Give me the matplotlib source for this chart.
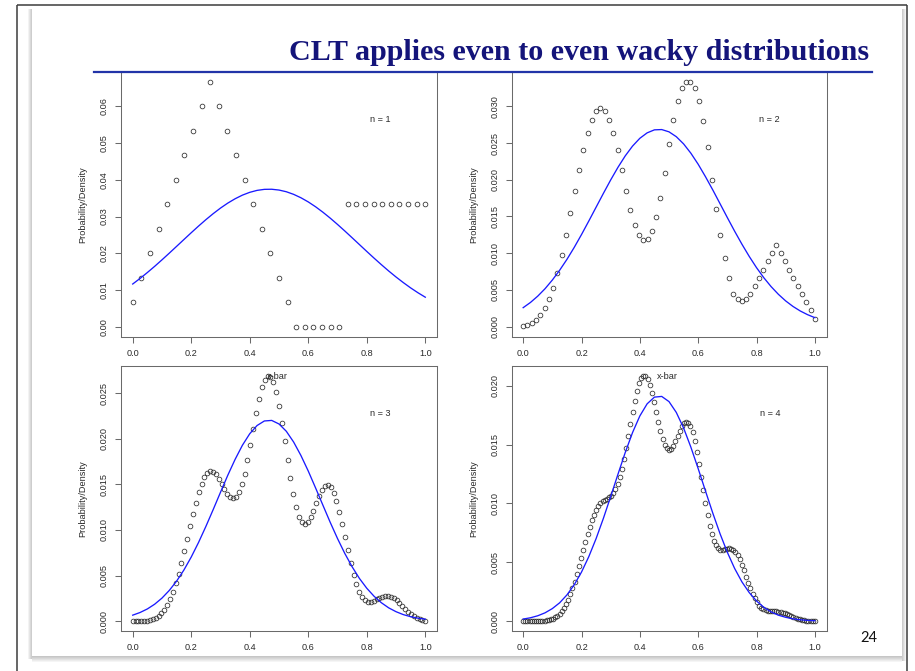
import numpy as np
import matplotlib
matplotlib.use("Agg")
import matplotlib.pyplot as plt
from matplotlib.lines import Line2D
from matplotlib.patches import Rectangle

# ---------------- data (probabilities in units of 1e-5) ----------------
prob_n1 = [667, 1333, 2000, 2667, 3333, 4000, 4667, 5333, 6000, 6667,
           6000, 5333, 4667, 4000, 3333, 2667, 2000, 1333, 667,
           0, 0, 0, 0, 0, 0,
           3333, 3333, 3333, 3333, 3333, 3333, 3333, 3333, 3333, 3333]

prob_n2 = [4, 18, 44, 89, 156, 249, 373, 533, 733, 978, 1253, 1547, 1844, 2133, 2400, 2631, 2813, 2933, 2978, 2933,
           2813, 2631, 2400, 2133, 1844, 1591, 1387, 1244, 1178, 1200, 1307, 1493, 1756, 2089, 2489, 2818, 3071, 3244, 3333, 3333,
           3244, 3067, 2800, 2444, 2000, 1600, 1244, 933, 667, 444, 378, 356, 378, 444, 556, 667, 778, 889, 1000, 1111,
           1000, 889, 778, 667, 556, 444, 333, 222, 111]

prob_n3 = [0, 0, 1, 2, 4, 7, 14, 23, 38, 59, 89, 128, 180, 244, 322, 415, 521, 639, 768, 903,
           1041, 1175, 1301, 1414, 1507, 1579, 1624, 1644, 1638, 1609, 1563, 1507, 1448, 1395, 1359, 1346, 1364, 1415, 1501, 1619,
           1765, 1931, 2106, 2279, 2435, 2562, 2649, 2690, 2680, 2619, 2509, 2357, 2174, 1971, 1764, 1567, 1391, 1247, 1142, 1084,
           1069, 1091, 1142, 1213, 1293, 1372, 1438, 1482, 1496, 1469, 1407, 1316, 1200, 1067, 922, 777, 638, 511, 404, 322,
           264, 228, 211, 211, 226, 242, 258, 270, 278, 278, 270, 256, 233, 204, 167, 133, 104, 78, 56, 37,
           22, 11, 4]

prob_n4 = [0, 0, 0, 0, 0, 0, 0, 1, 1, 2, 4, 6, 10, 15, 22, 32, 46, 63, 85, 112,
           145, 184, 229, 280, 337, 400, 466, 535, 605, 674, 740, 801, 857, 905, 945, 976, 1000, 1017, 1030, 1040,
           1052, 1067, 1089, 1121, 1166, 1223, 1294, 1377, 1471, 1572, 1675, 1777, 1872, 1954, 2019, 2063, 2084, 2080, 2053, 2005,
           1939, 1861, 1777, 1693, 1615, 1549, 1498, 1467, 1456, 1465, 1489, 1527, 1570, 1615, 1655, 1683, 1695, 1687, 1657, 1605,
           1532, 1441, 1337, 1226, 1112, 1002, 901, 812, 739, 682, 643, 619, 608, 606, 610, 615, 618, 616, 606, 588,
           560, 524, 480, 431, 379, 328, 278, 233, 193, 160, 133, 114, 100, 92, 87, 86, 85, 85, 83, 81,
           78, 73, 67, 59, 51, 43, 35, 27, 20, 15, 10, 7, 4, 2, 1, 0, 0]

# normal approximation, read at x = 0, 0.025, ..., 1.0
curve_n1 = [1162, 1313, 1474, 1643, 1820, 2002, 2187, 2373, 2558, 2739, 2913, 3077, 3229, 3365, 3483, 3582, 3658, 3711, 3739, 3742,
            3720, 3674, 3603, 3510, 3397, 3265, 3117, 2956, 2784, 2605, 2421, 2235, 2049, 1866, 1688, 1516, 1353, 1200, 1056, 924, 803]
curve_n2 = [259, 330, 416, 517, 635, 768, 916, 1079, 1254, 1438, 1626, 1814, 1997, 2169, 2325, 2458, 2564, 2638, 2679, 2683,
            2652, 2586, 2488, 2361, 2211, 2042, 1862, 1674, 1485, 1300, 1123, 957, 804, 667, 546, 441, 351, 276, 214, 164, 123]
curve_n3 = [66, 95, 134, 186, 253, 337, 439, 561, 703, 863, 1038, 1223, 1413, 1600, 1774, 1929, 2055, 2145, 2195, 2201,
            2162, 2082, 1964, 1816, 1646, 1461, 1272, 1084, 906, 742, 596, 468, 361, 273, 202, 146, 104, 72, 49, 33, 22]
curve_n4 = [18, 29, 46, 71, 107, 156, 223, 309, 417, 548, 701, 873, 1058, 1248, 1433, 1602, 1743, 1846, 1903, 1909,
            1865, 1773, 1641, 1478, 1296, 1106, 919, 743, 585, 448, 334, 243, 172, 118, 79, 51, 33, 20, 12, 7, 4]

x_ticks = [0.0, 0.2, 0.4, 0.6, 0.8, 1.0]
x_tick_labels = ["0.0", "0.2", "0.4", "0.6", "0.8", "1.0"]
y_ticks_n1 = [0.00, 0.01, 0.02, 0.03, 0.04, 0.05, 0.06]
y_labels_n1 = ["0.00", "0.01", "0.02", "0.03", "0.04", "0.05", "0.06"]
y_ticks_n2 = [0.000, 0.005, 0.010, 0.015, 0.020, 0.025, 0.030]
y_labels_n2 = ["0.000", "0.005", "0.010", "0.015", "0.020", "0.025", "0.030"]
y_ticks_n3 = [0.000, 0.005, 0.010, 0.015, 0.020, 0.025]
y_labels_n3 = ["0.000", "0.005", "0.010", "0.015", "0.020", "0.025"]
y_ticks_n4 = [0.000, 0.005, 0.010, 0.015, 0.020]
y_labels_n4 = ["0.000", "0.005", "0.010", "0.015", "0.020"]

panel_labels = ["n = 1", "n = 2", "n = 3", "n = 4"]
title_text = "CLT applies even to even wacky distributions"
y_axis_label = "Probability/Density"
xbar_text = "x-bar"
page_number = "24"

# ---------------- figure ----------------
W, H = 915, 671
fig = plt.figure(figsize=(W / 100, H / 100), dpi=100)
fig.patch.set_facecolor("white")

def fx(px):
    return px / W

def fy(py):
    return 1 - py / H

# background / slide frame (pixel coordinates)
bg = fig.add_axes([0, 0, 1, 1], zorder=-5)
bg.set_xlim(0, W)
bg.set_ylim(H, 0)
bg.axis("off")
frame_col = "#3c3c3c"
bg.plot([16.5, 907], [4.5, 4.5], color=frame_col, lw=1.1, solid_capstyle="butt")
bg.plot([16.5, 16.5], [4.5, H], color=frame_col, lw=1.1, solid_capstyle="butt")
bg.plot([907, 907], [4.5, H], color=frame_col, lw=1.1, solid_capstyle="butt")
# shadows of the slide
for i, c in enumerate(["#f3f3f3", "#e6e6e6", "#d9d9d9", "#cdcdcd"]):
    bg.add_patch(Rectangle((28 + i, 9), 1, 650, color=c, lw=0))
for i, c in enumerate(["#cdcdcd", "#d9d9d9", "#e6e6e6", "#f3f3f3"]):
    bg.add_patch(Rectangle((902 + i, 9), 1, 652, color=c, lw=0))
for i, c in enumerate(["#c6c6c6", "#cfcfcf", "#d8d8d8", "#e2e2e2", "#ececec", "#f5f5f5"]):
    bg.add_patch(Rectangle((32, 656 + i), 870, 1, color=c, lw=0))

# title and rule
fig.text(fx(869), fy(59.5), title_text, ha="right", va="baseline",
         family="Liberation Serif", weight="bold", fontsize=21.6, color="#14147a")
fig.add_artist(Line2D([fx(94), fx(872)], [fy(71.8), fy(71.8)], color="#2234a8", lw=1.6,
                      transform=fig.transFigure, zorder=10))

fig.text(fx(869), fy(638), page_number, ha="center", va="center",
         family="Lato", fontsize=10.5, color="#111111")

# panels
cols = [(121, 437), (511.5, 826.5)]
rows = [(72, 336.5), (366, 631)]
probs = [prob_n1, prob_n2, prob_n3, prob_n4]
curves = [curve_n1, curve_n2, curve_n3, curve_n4]
yticks = [y_ticks_n1, y_ticks_n2, y_ticks_n3, y_ticks_n4]
ylabels = [y_labels_n1, y_labels_n2, y_labels_n3, y_labels_n4]
axis_col = "#6a6a6a"
text_col = "#2a2a2a"
rfont = "Liberation Sans"

for idx in range(4):
    r, c = divmod(idx, 2)
    x0, x1 = cols[c]
    y0, y1 = rows[r]
    ax = fig.add_axes([fx(x0), fy(y1), fx(x1) - fx(x0), fy(y0) - fy(y1)])
    ax.set_facecolor("none")
    vals = np.array(probs[idx]) * 1e-5
    xs = np.linspace(0, 1, len(vals))
    cv = np.array(curves[idx]) * 1e-5
    cx = np.linspace(0, 1, len(cv))
    ax.plot(xs, vals, linestyle="none", marker="o", markersize=3.4,
            markerfacecolor="none", markeredgecolor="#2b2b2b", markeredgewidth=0.55)
    ax.plot(cx, cv, color="#1a1aff", lw=0.95)
    ymax = vals.max()
    ax.set_xlim(-0.04, 1.04)
    ax.set_ylim(-0.04 * ymax, 1.04 * ymax)
    ax.set_xticks(x_ticks)
    ax.set_xticklabels(x_tick_labels)
    ax.set_yticks(yticks[idx])
    ax.set_yticklabels(ylabels[idx], rotation=90, va="center")
    ax.tick_params(direction="out", length=4.3, width=0.75, color=axis_col,
                   labelsize=6.6, labelcolor=text_col, pad=4.5)
    for lab in ax.get_xticklabels() + ax.get_yticklabels():
        lab.set_family(rfont)
    for s in ax.spines.values():
        s.set_color(axis_col)
        s.set_linewidth(0.75)
    # y axis label
    fig.text(fx(x0 - 38), fy((y0 + y1) / 2), y_axis_label, rotation=90,
             ha="center", va="center", family=rfont, fontsize=6.6, color=text_col)
    # n = k label
    ax.text(0.82, 0.82, panel_labels[idx], transform=ax.transAxes, ha="center", va="center",
            family=rfont, fontsize=6.6, color=text_col)
    if r == 1:
        ax.text(0.494, 0.962, xbar_text, transform=ax.transAxes, ha="center", va="center",
                family=rfont, fontsize=6.6, color=text_col)

fig.savefig("out.png", dpi=100)
